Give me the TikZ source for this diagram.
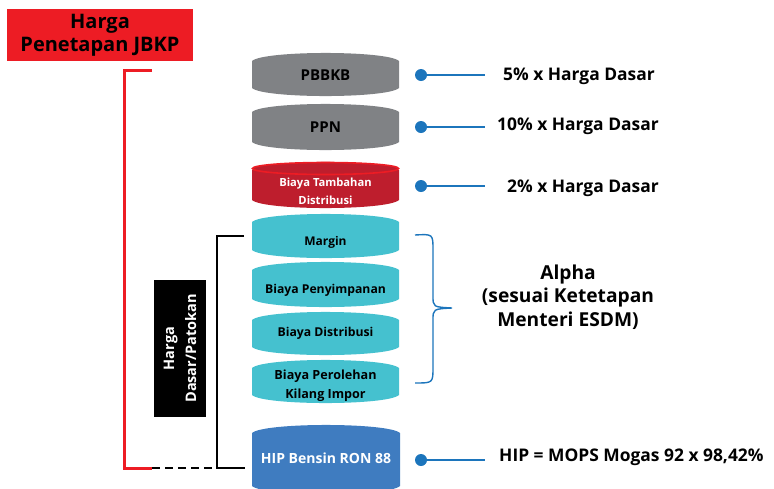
\documentclass[tikz,border=0pt]{standalone}
\usepackage{fontspec}
\setmainfont{Open Sans}
\definecolor{greybar}{HTML}{808285}
\definecolor{redbar}{HTML}{BE1E2D}
\definecolor{redrim}{HTML}{ED1C24}
\definecolor{tealbar}{HTML}{45C1CF}
\definecolor{bluebar}{HTML}{3F7CC0}
\definecolor{linkblue}{HTML}{1C75BC}
\definecolor{titlered}{HTML}{ED1C24}
\tikzset{
  lbl/.style={font=\bfseries\fontsize{#1}{#1}\selectfont, inner sep=0pt, align=center},
  lbltwo/.style 2 args={font=\bfseries\fontsize{#1}{#2}\selectfont, inner sep=0pt, align=center},
  dot/.style={circle, fill=linkblue, inner sep=0pt, minimum size=12pt},
  link/.style={draw=linkblue, line width=1.6pt},
  note/.style={font=\bfseries\fontsize{17.4}{23}\selectfont, inner sep=0pt, align=center}
}
% barrel: x1, y1, x2, y2, fill colour
\newcommand\barrelbody[5]{%
  \fill[#5] (#1,#2+8) .. controls ({#1+(#3-#1)*0.08},#2-2.7) and ({#3-(#3-#1)*0.08},#2-2.7) .. (#3,#2+8)
    -- (#3,#4-8) .. controls ({#3-(#3-#1)*0.08},#4+2.7) and ({#1+(#3-#1)*0.08},#4+2.7) .. (#1,#4-8) -- cycle;}
\begin{document}
\begin{tikzpicture}[x=1pt,y=-1pt]
\useasboundingbox (0,0) rectangle (774,488);

% title
\node[fill=titlered, minimum width=186pt, minimum height=52pt, inner sep=0pt] (title) at (100,35) {};
\node[lbltwo={20}{23}, text=black] at (title.center) {Harga\\Penetapan JBKP};

% stacked barrels
\barrelbody{252}{53}{399}{96}{greybar}
\node[lbl=15] (pbbkb) at (325.5,75) {PBBKB};
\barrelbody{252}{104}{399}{150}{greybar}
\node[lbl=15] (ppn) at (325.5,127) {PPN};
\barrelbody{252}{162}{399}{208}{redbar}
\draw[redrim, line width=1.6pt, fill=redbar] (325.5,168.5) ellipse [x radius=73pt, y radius=6pt];
\node[lbltwo={11.2}{18}, text=white] (bta) at (325.5,191) {Biaya Tambahan\\Distribusi};
\barrelbody{252}{214}{399}{258}{tealbar}
\node[lbl=12] (margin) at (325.5,242) {Margin};
\barrelbody{252}{262}{399}{307}{tealbar}
\node[lbl=12.2] (simpan) at (325.5,290) {Biaya Penyimpanan};
\barrelbody{252}{312}{399}{355}{tealbar}
\node[lbl=12.2] (distr) at (325.5,333) {Biaya Distribusi};
\barrelbody{252}{360}{399}{403}{tealbar}
\node[lbltwo={12.6}{19}] (oleh) at (325.5,385.5) {Biaya Perolehan\\Kilang Impor};
\barrelbody{252}{425}{400}{494}{bluebar}
\node[lbl=14] [text=white] (hip) at (326,458) {HIP Bensin RON 88};

% value links
\node[dot] (d1) at (421,75) {};
\coordinate (e1) at (485,75);
\draw[link] (d1) -- (e1);
\node[note, anchor=west] (t1) at (503,76) {5\% x Harga Dasar};
\node[dot] (d2) at (421,127) {};
\coordinate (e2) at (485,127);
\draw[link] (d2) -- (e2);
\node[note, anchor=west] (t2) at (497,126) {10\% x Harga Dasar};
\node[dot] (d3) at (421,186) {};
\coordinate (e3) at (485,186);
\draw[link] (d3) -- (e3);
\node[note, anchor=west] (t3) at (507,188) {2\% x Harga Dasar};
\node[dot] (d4) at (421,460) {};
\coordinate (e4) at (485,460);
\draw[link] (d4) -- (e4);
\node[note, anchor=west] (t4) at (499,457) {HIP = MOPS Mogas 92 x 98,42\%};

% alpha brace
\draw[link, line width=1.4pt] (415,235) .. controls (433,234) .. (433,250) -- (433,296)
  .. controls (433,307) .. (452,308) .. controls (433,309) .. (433,320) -- (433,367)
  .. controls (433,383) .. (415,383);
\node[lbltwo={19.2}{23.5}] (alpha) at (568,297) {Alpha\\(sesuai Ketetapan\\Menteri ESDM)};

% brackets on the left
\coordinate (r1) at (152,70);
\coordinate (r2) at (124,70);
\coordinate (r3) at (124,468);
\coordinate (r4) at (152,468);
\draw[titlered, line width=3pt] (r1) -- (r2) -- (r3) -- (r4);
\coordinate (b1) at (244,236);
\coordinate (b2) at (217,236);
\coordinate (b3) at (217,468);
\coordinate (b4) at (245,468);
\draw[black, line width=1.2pt, dash pattern=on 8pt off 5pt] (r4) -- (b3);
\draw[black, line width=1.2pt] (b1) -- (b2) -- (b3) -- (b4);

% base price label
\node[fill=black, rotate=90, minimum width=137pt, minimum height=52pt, inner sep=0pt] (dasar) at (180,348.5) {};
\node[lbltwo={14.5}{22}, text=white, rotate=90] at (dasar.center) {Harga\\Dasar/Patokan};
\end{tikzpicture}
\end{document}
